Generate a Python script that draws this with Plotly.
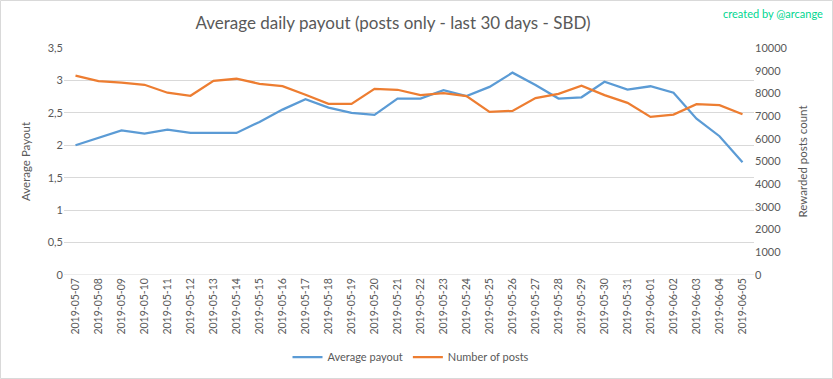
import plotly.graph_objects as go

dates = ["2019-05-07","2019-05-08","2019-05-09","2019-05-10","2019-05-11","2019-05-12",
         "2019-05-13","2019-05-14","2019-05-15","2019-05-16","2019-05-17","2019-05-18",
         "2019-05-19","2019-05-20","2019-05-21","2019-05-22","2019-05-23","2019-05-24",
         "2019-05-25","2019-05-26","2019-05-27","2019-05-28","2019-05-29","2019-05-30",
         "2019-05-31","2019-06-01","2019-06-02","2019-06-03","2019-06-04","2019-06-05"]

avg_payout = [2.00, 2.11, 2.23, 2.18, 2.24, 2.19, 2.19, 2.19, 2.36, 2.55, 2.71, 2.58,
              2.50, 2.47, 2.72, 2.72, 2.85, 2.76, 2.90, 3.12, 2.93, 2.72, 2.74, 2.98,
              2.86, 2.91, 2.81, 2.41, 2.14, 1.74]

num_posts = [8780, 8545, 8470, 8380, 8030, 7895, 8557, 8645, 8424, 8321, 7938, 7540,
             7540, 8203, 8160, 7923, 8012, 7880, 7186, 7231, 7791, 7982, 8337, 7923,
             7585, 6966, 7069, 7526, 7482, 7084]

left_ticks = [0, 0.5, 1, 1.5, 2, 2.5, 3, 3.5]
left_ticktext = ["0", "0,5", "1", "1,5", "2", "2,5", "3", "3,5"]
right_ticks = [0, 1000, 2000, 3000, 4000, 5000, 6000, 7000, 8000, 9000, 10000]
right_ticktext = [str(v) for v in right_ticks]

FONT = "Lato"
GRAY = "#595959"
W, H = 833, 379
L, R, T, B = 64, 79, 48, 104
PW, PH = W - L - R, H - T - B

fig = go.Figure()
fig.add_trace(go.Scatter(x=dates, y=avg_payout, name="Average payout", mode="lines",
                         line=dict(color="#5B9BD5", width=2.25)))
fig.add_trace(go.Scatter(x=dates, y=num_posts, name="Number of posts", mode="lines",
                         line=dict(color="#ED7D31", width=2.25), yaxis="y2"))

fig.update_layout(
    width=W, height=H,
    margin=dict(l=L, r=R, t=T, b=B),
    paper_bgcolor="white", plot_bgcolor="white",
    font=dict(family=FONT, color=GRAY, size=11),
    title=dict(text="Average daily payout (posts only - last 30 days - SBD)",
               x=(393 - L) / PW, xanchor="center", xref="paper", yref="container",
               y=1 - 23 / H, yanchor="middle", automargin=False,
               font=dict(size=17, color=GRAY, family=FONT)),
    xaxis=dict(type="category", tickangle=-90, showgrid=False, showline=False,
               ticks="", tickfont=dict(size=10.5, color=GRAY), range=[-0.5, 29.5],
               automargin=False),
    yaxis=dict(range=[0, 3.5], tickvals=left_ticks, ticktext=left_ticktext,
               showgrid=True, gridcolor="#D9D9D9", gridwidth=1, zeroline=False,
               showline=False, ticks="", tickfont=dict(size=11, color=GRAY),
               automargin=False,
               title=dict(text="Average Payout", font=dict(size=11.5, color=GRAY), standoff=14)),
    yaxis2=dict(range=[0, 10000], tickvals=right_ticks, ticktext=right_ticktext,
                overlaying="y", side="right", automargin=False,
                showgrid=False, zeroline=False, showline=False, ticks="",
                tickfont=dict(size=11, color=GRAY),
                title=dict(text="Rewarded posts count", font=dict(size=11.5, color=GRAY), standoff=12)),
    legend=dict(orientation="h", xref="container", yref="container",
                x=411 / W, xanchor="center", y=1 - 357 / H, yanchor="middle",
                font=dict(size=11, color=GRAY)),
    annotations=[dict(text="created by @arcange", xref="paper", yref="paper",
                      x=(825 - L) / PW, xanchor="right", y=(T + PH - 14) / PH, yanchor="middle",
                      showarrow=False,
                      font=dict(size=11, color="#00D68F", family=FONT))],
    shapes=[dict(type="line", xref="paper", yref="y", x0=0, x1=1, y0=0, y1=0,
                 line=dict(color="#D9D9D9", width=1)),
            dict(type="rect", xref="paper", yref="paper", x0=-(L - 0.5) / PW, x1=1 + (R - 0.5) / PW,
                 y0=-(B - 0.5) / PH, y1=1 + (T - 0.5) / PH, line=dict(color="#D9D9D9", width=1))],
)

fig.write_html("out.html", config={"displayModeBar": False},
               post_script="document.body.style.margin='0';document.body.style.overflow='hidden';")
